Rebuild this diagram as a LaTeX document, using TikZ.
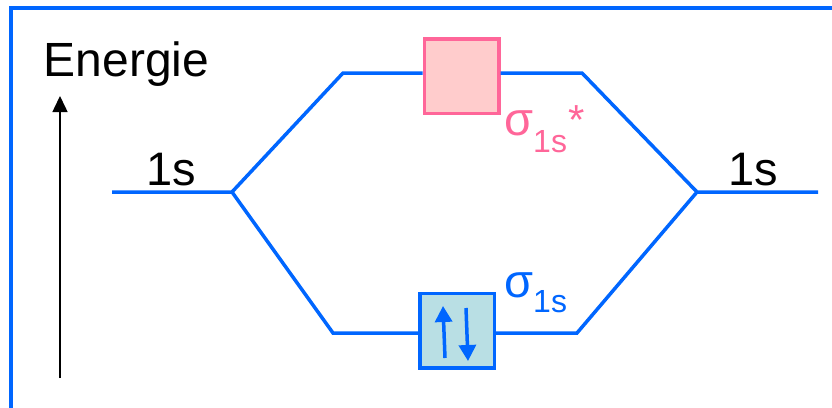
\documentclass[tikz,border=0pt]{standalone}
\usepackage{fontspec}
\setmainfont{Liberation Sans}
\usetikzlibrary{arrows.meta}
\definecolor{moblue}{RGB}{0,102,255}
\definecolor{mopink}{RGB}{255,102,153}
\definecolor{mopinkfill}{RGB}{255,204,204}
\definecolor{motealfill}{RGB}{185,223,228}

\begin{document}
\begin{tikzpicture}[x=1pt,y=-1pt]
  \useasboundingbox (0,0) rectangle (832,407);
  \clip (0,0) rectangle (832,407);

  \tikzstyle{LevelStyle}=[draw=moblue,line width=3.5pt]
  \tikzstyle{BoxStyle}=[draw,line width=3.5pt,minimum width=74.5pt,minimum height=74.5pt,inner sep=0pt]
  \tikzstyle{BigText}=[font=\fontsize{47}{56}\selectfont,inner sep=0pt]
  \tikzstyle{SpinStyle}=[draw=moblue,line width=3.5pt,-{Triangle[width=17pt,length=16pt]}]

  % frame
  \coordinate (fb) at (11,430);
  \coordinate (ft) at (11,8);
  \coordinate (fr) at (860,8);
  \draw[moblue,line width=3.5pt] (fb) -- (ft) -- (fr);

  % energy axis
  \coordinate (e0) at (60,378);
  \coordinate (e1) at (60,96);
  \draw[line width=1.5pt,-{Triangle[width=15pt,length=16pt]}] (e0) -- (e1);
  \node[BigText,anchor=base west,font=\fontsize{48}{58}\selectfont] (energie) at (43.5,76) {Energie};

  % atomic levels
  \coordinate (a1l) at (112,192);
  \coordinate (a1r) at (232,192);
  \coordinate (b1l) at (697,192);
  \coordinate (b1r) at (818,192);
  \node[BigText,anchor=base] (l1s) at (171.5,185) {1s};
  \node[BigText,anchor=base] (r1s) at (753,185) {1s};

  % molecular levels
  \coordinate (asl) at (343,73);
  \coordinate (asr) at (582,73);
  \coordinate (bsl) at (333,333);
  \coordinate (bsr) at (577,333);
  \node[BoxStyle,draw=mopink,fill=mopinkfill] (astar) at (461.5,76) {};
  \node[BoxStyle,draw=moblue,fill=motealfill] (bond) at (457,330.5) {};

  \draw[LevelStyle] (a1l) -- (a1r) -- (asl) -- (astar.west |- asl);
  \draw[LevelStyle] (astar.east |- asr) -- (asr) -- (b1l) -- (b1r);
  \draw[LevelStyle] (a1r) -- (bsl) -- (bond.west |- bsl);
  \draw[LevelStyle] (bond.east |- bsr) -- (bsr) -- (b1l);

  % electrons
  \coordinate (up0) at (445,358);
  \coordinate (up1) at (443,306);
  \coordinate (dn0) at (466,308);
  \coordinate (dn1) at (468,361);
  \draw[SpinStyle] (up0) -- (up1);
  \draw[SpinStyle] (dn0) -- (dn1);

  % labels
  \node[BigText,anchor=base west,text=mopink] (sigstar) at (504,135)
    {σ\raisebox{-17pt}{\fontsize{32}{38}\selectfont 1s}\raisebox{1pt}{\fontsize{42}{50}\selectfont\kern1pt *}};
  \node[BigText,anchor=base west,text=moblue] (sig) at (504,297)
    {σ\raisebox{-15pt}{\fontsize{32}{38}\selectfont 1s}};
\end{tikzpicture}
\end{document}
